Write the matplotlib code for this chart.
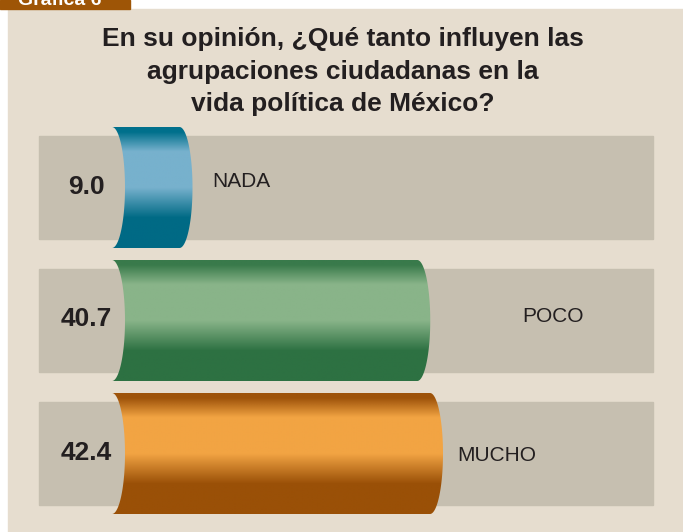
import matplotlib
matplotlib.use('Agg')
import matplotlib.pyplot as plt
import numpy as np
from matplotlib.patches import Rectangle, Polygon
from matplotlib.colors import LinearSegmentedColormap

plt.rcParams['font.family'] = ['Liberation Sans', 'DejaVu Sans']

# Data
title_lines = ['En su opinión, ¿Qué tanto influyen las',
               'agrupaciones ciudadanas en la',
               'vida política de México?']
categories = ['NADA', 'POCO', 'MUCHO']
values = [9.0, 40.7, 42.4]
value_labels = ['9.0', '40.7', '42.4']

# Style: (dark top, light band, dark bottom) for each cylinder
bar_colors = [('#00708c', '#77b1cd', '#006a85'),
              ('#397a4b', '#89b489', '#2d7142'),
              ('#9e530a', '#f2a443', '#9a5007')]
label_x = [13.3, 54.7, 46.0]   # where the category word sits (value units)
label_dy = [-6, -4, 2]         # vertical nudge of the category word (px)

# Layout helpers (pixel layout of the page)
W, H = 683, 532
px = 7.5      # pixels per percentage point
x0 = 112      # pixel where the cylinders start


def vx(p):
    return (p - x0) / px


fig = plt.figure(figsize=(W / 100, H / 100), dpi=100)
fig.patch.set_facecolor('white')
ax = fig.add_axes([0, 0, 1, 1])
ax.axis('off')

# beige panel and brown tab
ax.add_patch(Rectangle((vx(8), 9), vx(W) - vx(8), H, color='#e6ddcf', zorder=0))
tab = Rectangle((vx(0), 0), vx(130) - vx(0), 9, color='#9e5506', zorder=1)
ax.add_patch(tab)
t = ax.text(vx(18), 5, 'Gráfica 6', color='white', fontsize=14,
            fontweight='bold', va='baseline', ha='left', zorder=2)
t.set_clip_path(tab)

# title
for i, line in enumerate(title_lines):
    ax.text(vx(343), 46 + 32.5 * i, line, ha='center', va='baseline',
            fontsize=19, fontweight='bold', color='#231f20')

row_y0 = 187.5
row_step = 133
cyl_h = 121
gray_h = 103
bulge = 13 / px
theta = np.linspace(-np.pi / 2, np.pi / 2, 80)

for i, (cat, val, lab) in enumerate(zip(categories, values, value_labels)):
    yc = row_y0 + row_step * i
    # grey track
    ax.add_patch(Rectangle((vx(39), yc - gray_h / 2), vx(653) - vx(39), gray_h,
                           color='#c6bfb0', zorder=1))
    # cylinder outline
    ys = yc + cyl_h / 2 * np.sin(theta)
    right = np.column_stack([val + bulge * np.cos(theta), ys])
    left = np.column_stack([0 + bulge * np.cos(theta[::-1]), ys[::-1]])
    poly = Polygon(np.vstack([right, left]), closed=True, facecolor='none',
                   edgecolor='none', zorder=3)
    ax.add_patch(poly)
    dark, light, dark2 = bar_colors[i]
    cmap = LinearSegmentedColormap.from_list(
        'c%d' % i, [(0, dark), (0.04, dark), (0.2, light), (0.5, light),
                    (0.75, dark2), (1, dark2)])
    grad = np.linspace(0, 1, 256).reshape(-1, 1)
    im = ax.imshow(grad, cmap=cmap, aspect='auto', origin='upper',
                   extent=(0, val + bulge, yc + cyl_h / 2, yc - cyl_h / 2),
                   zorder=3, interpolation='bilinear')
    im.set_clip_path(poly)

    ax.text(vx(86), yc - 1, lab, ha='center', va='center', fontsize=19,
            fontweight='bold', color='#231f20', zorder=4)
    ax.text(label_x[i], yc + label_dy[i], cat, ha='left', va='center',
            fontsize=15, color='#231f20', zorder=4)

ax.set_xlim(vx(0), vx(W))
ax.set_ylim(H, 0)

fig.savefig('out.png', dpi=100, facecolor=fig.get_facecolor())
